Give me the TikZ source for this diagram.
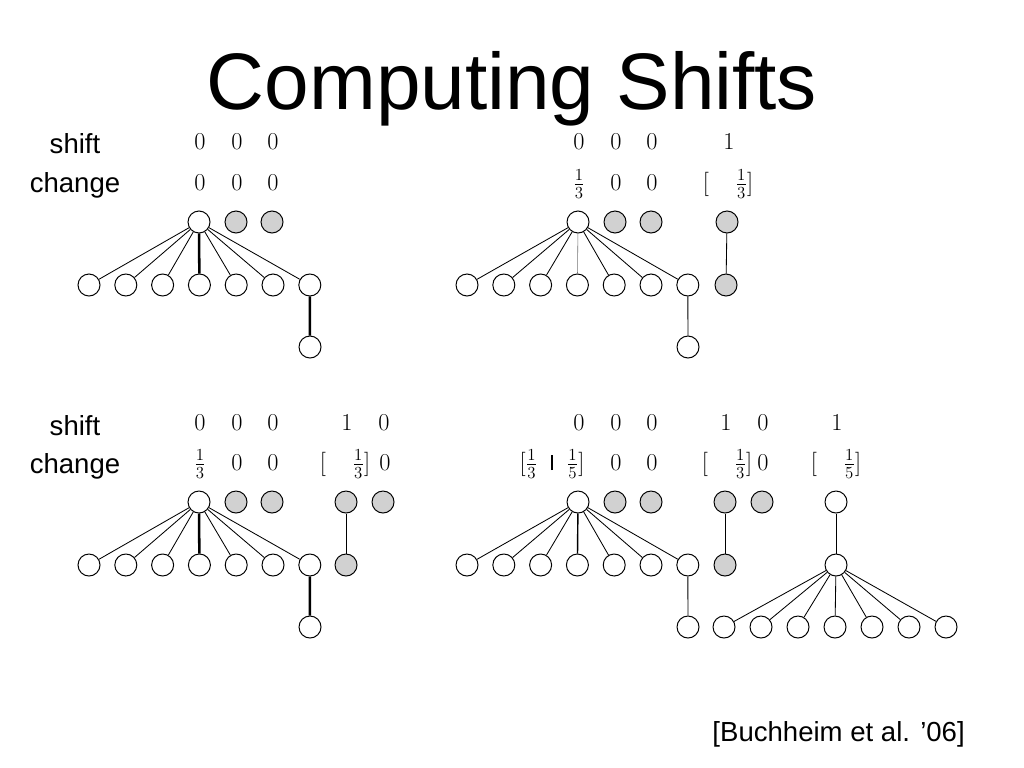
\documentclass[tikz,border=0pt]{standalone}
\usepackage{fontspec}
\setmainfont{Liberation Sans}
\usetikzlibrary{positioning}

\begin{document}
\begin{tikzpicture}[
  x=0.025cm, y=-0.025cm,
  vtx/.style={
    circle, draw, fill=white, line width=0.7pt,
    minimum size=0.55cm, inner sep=0pt,
  },
  gvtx/.style={vtx, fill=black!18},
  edge/.style={line width=0.6pt},
  heavy/.style={line width=1.8pt},
  faint/.style={line width=0.4pt, black!55},
  title/.style={font=\fontsize{57}{60}\selectfont, anchor=base},
  lbl/.style={font=\fontsize{19.6}{22}\selectfont, anchor=base},
  val/.style={font=\fontsize{17.28}{19}\selectfont, anchor=base, inner sep=0pt},
]
  \useasboundingbox (0,0) rectangle (1024,768);

  % Title and labels
  \node[title] (ttl) at (512,110) {Computing Shifts};
  \node[lbl] (shiftA) at (75,154) {shift};
  \node[lbl] (changeA) at (75,192) {change};
  \node[lbl] (shiftB) at (75,435) {shift};
  \node[lbl] (changeB) at (75,473) {change};
  \node[lbl, anchor=base east, inner sep=0pt] (cite) at (965,741)
    {[Buchheim et al. ’06]};

  % Panel 1 (top left)
  \foreach \x/\n in {200/a,237/b,273/c} {
    \node[val] (s1\n) at (\x,150) {$0$};
    \node[val] (d1\n) at (\x,190) {$0$};
  }
  \node[vtx]  (r1)  at (199,222) {};
  \node[gvtx] (g1a) at (236,222) {};
  \node[gvtx] (g1b) at (272,222) {};
  \foreach \i in {1,...,7}
    \node[vtx] (c1-\i) at ({52.2+36.8*\i},285) {};
  \node[vtx] (gc1) at (310,347) {};
  \foreach \i in {1,2,3,5,6,7}
    \draw[edge] (r1) -- (c1-\i);
  \draw[heavy] (r1) -- (c1-4);
  \draw[heavy] (c1-7) -- (gc1);

  % Panel 2 (top right)
  \foreach \x/\n in {579/a,616/b,652/c}
    \node[val] (s2\n) at (\x,150) {$0$};
  \node[val] (s2d) at (729,150) {$1$};
  \node[val] (d2a) at (579,190) {$\frac{1}{3}$};
  \node[val] (d2b) at (616,190) {$0$};
  \node[val] (d2c) at (652,190) {$0$};
  \node[val] (d2d) at (728,190) {$[\hspace{1.1em}\frac{1}{3}]$};
  \node[vtx]  (r2)  at (578,222) {};
  \node[gvtx] (g2a) at (615,222) {};
  \node[gvtx] (g2b) at (651,222) {};
  \node[gvtx] (g2c) at (727,222) {};
  \foreach \i in {1,...,7}
    \node[vtx] (c2-\i) at ({430.2+36.8*\i},285) {};
  \node[gvtx] (c2g) at (726,285) {};
  \node[vtx] (gc2) at (688,347) {};
  \foreach \i in {1,2,3,5,6,7}
    \draw[edge] (r2) -- (c2-\i);
  \draw[faint] (r2) -- (c2-4);
  \draw[edge] (c2-7) -- (gc2);
  \draw[edge] (g2c) -- (c2g);

  % Panel 3 (bottom left)
  \foreach \x/\n in {200/a,237/b,273/c}
    \node[val] (s3\n) at (\x,430) {$0$};
  \node[val] (s3d) at (347,430) {$1$};
  \node[val] (s3e) at (384,430) {$0$};
  \node[val] (d3a) at (200,470) {$\frac{1}{3}$};
  \node[val] (d3b) at (237,470) {$0$};
  \node[val] (d3c) at (273,470) {$0$};
  \node[val] (d3d) at (345,470) {$[\hspace{1.1em}\frac{1}{3}]$};
  \node[val] (d3e) at (385,470) {$0$};
  \node[vtx]  (r3)  at (199,502) {};
  \node[gvtx] (g3a) at (236,502) {};
  \node[gvtx] (g3b) at (272,502) {};
  \node[gvtx] (g3c) at (346,502) {};
  \node[gvtx] (g3d) at (383,502) {};
  \foreach \i in {1,...,7}
    \node[vtx] (c3-\i) at ({52.2+36.8*\i},565) {};
  \node[gvtx] (c3g) at (346,565) {};
  \node[vtx] (gc3) at (310,627) {};
  \foreach \i in {1,2,3,5,6,7}
    \draw[edge] (r3) -- (c3-\i);
  \draw[heavy] (r3) -- (c3-4);
  \draw[heavy] (c3-7) -- (gc3);
  \draw[edge] (g3c) -- (c3g);

  % Panel 4 (bottom right)
  \foreach \x/\n in {579/a,616/b,652/c}
    \node[val] (s4\n) at (\x,430) {$0$};
  \node[val] (s4d) at (726,430) {$1$};
  \node[val] (s4e) at (763,430) {$0$};
  \node[val] (s4f) at (837,430) {$1$};
  \node[val] (d4a) at (552,470)
    {$[\frac{1}{3}\;\;\rule{1.8pt}{1.2ex}\;\;\frac{1}{5}]$};
  \node[val] (d4b) at (616,470) {$0$};
  \node[val] (d4c) at (652,470) {$0$};
  \node[val] (d4d) at (727,470) {$[\hspace{1.1em}\frac{1}{3}]$};
  \node[val] (d4e) at (763,470) {$0$};
  \node[val] (d4f) at (836,470) {$[\hspace{1.1em}\frac{1}{5}]$};
  \node[vtx]  (r4)  at (578,502) {};
  \node[gvtx] (g4a) at (615,502) {};
  \node[gvtx] (g4b) at (651,502) {};
  \node[gvtx] (g4c) at (725,502) {};
  \node[gvtx] (g4d) at (762,502) {};
  \node[vtx]  (w4)  at (836,502) {};
  \foreach \i in {1,...,7}
    \node[vtx] (c4-\i) at ({430.2+36.8*\i},565) {};
  \node[gvtx] (c4g) at (725,565) {};
  \node[vtx] (m4) at (836,565) {};
  \node[vtx] (gc4) at (688,627) {};
  \foreach \i in {1,...,7}
    \node[vtx] (e4-\i) at ({687+37*\i},627) {};
  \foreach \i in {1,2,3,5,6,7}
    \draw[edge] (r4) -- (c4-\i);
  \draw[line width=1pt] (r4) -- (c4-4);
  \draw[edge] (c4-7) -- (gc4);
  \draw[edge] (g4c) -- (c4g);
  \draw[edge] (w4) -- (m4);
  \foreach \i in {1,...,7}
    \draw[edge] (m4) -- (e4-\i);
\end{tikzpicture}
\end{document}
